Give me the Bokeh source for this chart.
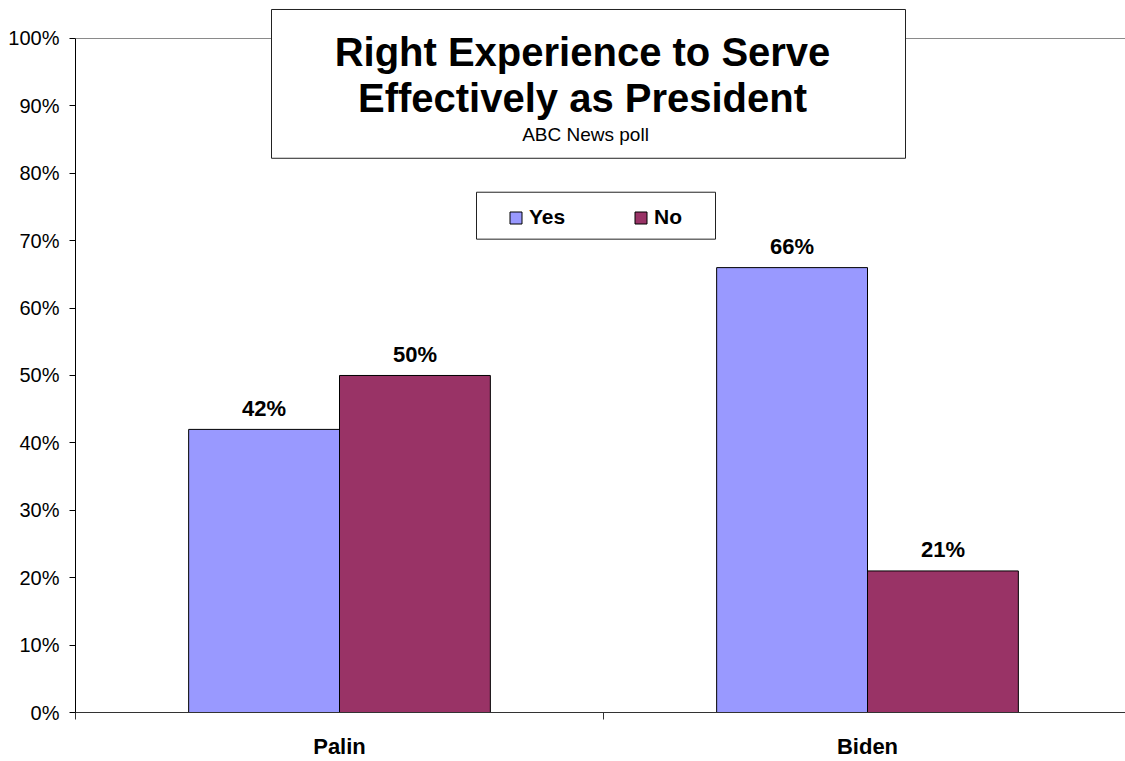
import numpy as np
from bokeh.plotting import figure
from bokeh.models import Range1d, FixedTicker, PrintfTickFormatter, Legend, LegendItem
from bokeh.core.properties import value
from bokeh.embed import file_html
from bokeh.resources import INLINE

# ---- data ----
categories = ["Palin", "Biden"]
series = ["Yes", "No"]
yes_vals = [42, 66]
no_vals = [50, 21]
y_ticks = [0, 10, 20, 30, 40, 50, 60, 70, 80, 90, 100]
title_lines = ["Right Experience to Serve", "Effectively as President"]
subtitle = "ABC News poll"

# ---- style ----
colors = ["#9999FF", "#993366"]
FONT = "Liberation Sans"

# ---- layout (pixels) ----
W, H = 1125, 761
LEFT, TOP, BOTTOM = 75, 0, 48
frame_w = W - LEFT
frame_h = H - TOP - BOTTOM
PX_PER_CAT = 528.0          # pixels per category
PX_PER_PCT = 6.75           # pixels per percentage point

def dx(px):   # frame-relative pixel -> data x
    return px / PX_PER_CAT

def dy(px):   # pixels above the 0% line -> data y
    return px / PX_PER_PCT

p = figure(width=W, height=H, title=None, output_backend="svg", toolbar_location=None,
           x_range=Range1d(0, dx(frame_w)), y_range=Range1d(0, dy(frame_h)),
           min_border_left=LEFT, min_border_right=0, min_border_top=TOP,
           min_border_bottom=BOTTOM)
p.outline_line_color = None
p.background_fill_color = "white"
p.border_fill_color = "white"

# grid: only the 100% line
p.xgrid.visible = False
p.ygrid.ticker = FixedTicker(ticks=[100])
p.ygrid.grid_line_color = "#8a8a8a"
p.ygrid.grid_line_width = 1

# y axis
ya = p.yaxis[0]
ya.ticker = FixedTicker(ticks=y_ticks, minor_ticks=[])
ya.formatter = PrintfTickFormatter(format="%d%%")
ya.bounds = (0, 100)
ya.axis_line_color = "black"
ya.major_tick_line_color = "black"
ya.major_tick_out = 6
ya.major_tick_in = 0
ya.minor_tick_line_color = None
ya.major_label_standoff = 10
ya.major_label_text_font = FONT
ya.major_label_text_font_size = "20px"
ya.major_label_text_color = "black"

# x axis: labels at category centres, tick marks at category boundaries
xa = p.xaxis[0]
ncat = len(categories)
centres = [i + 0.5 for i in range(ncat)]
xa.ticker = FixedTicker(ticks=centres, minor_ticks=list(range(ncat + 1)))
xa.major_label_overrides = {c: name for c, name in zip(centres, categories)}
xa.major_tick_out = 0
xa.major_tick_in = 0
xa.minor_tick_out = 7
xa.minor_tick_in = 0
xa.minor_tick_line_color = "#333333"
xa.axis_line_color = "#333333"
xa.major_label_standoff = 14
xa.major_label_text_font = FONT
xa.major_label_text_font_style = "bold"
xa.major_label_text_font_size = "22px"
xa.major_label_text_color = "black"

# bars
bar_w = 1.0 / 3.5   # Excel gap width 150%
idx = np.arange(ncat)
x_yes = idx + 0.5 - bar_w / 2
x_no = idx + 0.5 + bar_w / 2
r_yes = p.vbar(x=x_yes, top=yes_vals, width=bar_w, fill_color=colors[0],
               line_color="black", line_width=1)
r_no = p.vbar(x=x_no, top=no_vals, width=bar_w, fill_color=colors[1],
              line_color="black", line_width=1)

# data labels
for xs, vals in ((x_yes, yes_vals), (x_no, no_vals)):
    p.text(x=xs, y=vals, text=[f"{v}%" for v in vals], text_align="center",
           text_baseline="alphabetic", y_offset=-21,
           text_font=value(FONT), text_font_style="bold",
           text_font_size="22px", text_color="black")

# title box (frame-relative pixels; y measured up from the 0% line)
p.quad(left=[dx(196)], right=[dx(830)], top=[dy(704)], bottom=[dy(555)],
       fill_color="white", line_color="#222222", line_width=1)
p.text(x=[dx(507), dx(507)], y=[dy(661), dy(615)], text=title_lines,
       text_align="center", text_baseline="alphabetic",
       text_font=value(FONT), text_font_style="bold",
       text_font_size="40px", text_color="black")
p.text(x=[dx(510)], y=[dy(579)], text=[subtitle],
       text_align="center", text_baseline="alphabetic",
       text_font=value(FONT), text_font_size="19px", text_color="black")

# legend box
p.quad(left=[dx(401)], right=[dx(640)], top=[dy(521)], bottom=[dy(474)],
       fill_color="white", line_color="#222222", line_width=1)

legend = Legend(items=[LegendItem(label=series[0], renderers=[r_yes]),
                       LegendItem(label=series[1], renderers=[r_no])],
                location=(433, 483), orientation="horizontal",
                padding=0, margin=0, spacing=64,
                glyph_width=15, glyph_height=15, label_standoff=6, label_width=40,
                label_text_font=FONT, label_text_font_style="bold",
                label_text_font_size="21px", label_text_color="black",
                border_line_color=None, background_fill_alpha=0)
p.add_layout(legend)

open("out.html", "w").write(file_html(p, INLINE))
